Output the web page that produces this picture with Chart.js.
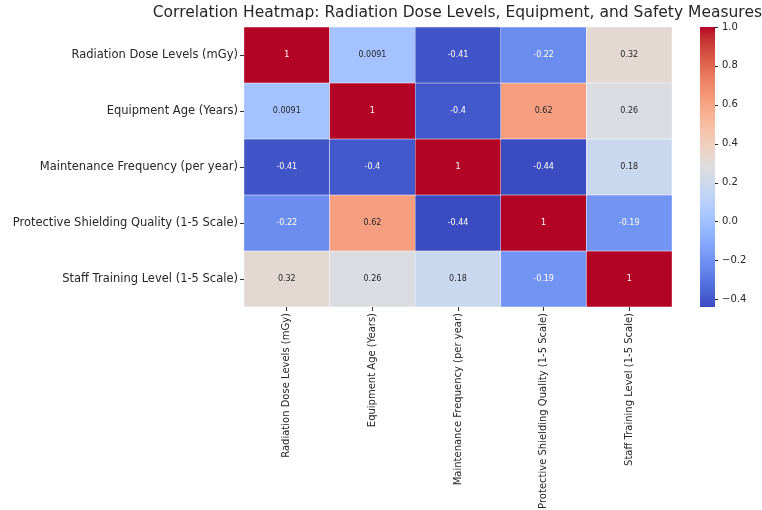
<!DOCTYPE html>
<html>
<head>
<meta charset="utf-8">
<script src="https://cdn.jsdelivr.net/npm/chart.js@4"></script>
<style>
  body { margin: 0; background: #fff; }
  canvas { display: block; }
</style>
</head>
<body>
<canvas id="heatmap" width="762" height="510"></canvas>
<script>
const variables = [
  'Radiation Dose Levels (mGy)',
  'Equipment Age (Years)',
  'Maintenance Frequency (per year)',
  'Protective Shielding Quality (1-5 Scale)',
  'Staff Training Level (1-5 Scale)'
];

// correlation matrix, one row per variable
const rowRadiation = [1, 0.0091, -0.41, -0.22, 0.32];
const rowEquipment = [0.0091, 1, -0.4, 0.62, 0.26];
const rowMaintenance = [-0.41, -0.4, 1, -0.44, 0.18];
const rowShielding = [-0.22, 0.62, -0.44, 1, -0.19];
const rowTraining = [0.32, 0.26, 0.18, -0.19, 1];
const matrix = [rowRadiation, rowEquipment, rowMaintenance, rowShielding, rowTraining];

const colorbarTicks = [-0.4, -0.2, 0.0, 0.2, 0.4, 0.6, 0.8, 1.0];
const vmin = Math.min(...matrix.flat());
const vmax = Math.max(...matrix.flat());

// coolwarm colormap (Moreland)
const coolwarm = [
  [59,76,192],[68,90,204],[77,104,215],[87,117,225],[98,130,234],[108,142,241],
  [119,154,247],[130,165,251],[141,176,254],[152,185,255],[163,194,255],[174,201,253],
  [184,208,249],[194,213,244],[204,217,238],[213,219,230],[221,221,221],[229,216,209],
  [236,211,197],[241,204,184],[245,196,172],[247,187,160],[247,177,148],[247,166,135],
  [244,154,123],[241,141,111],[236,127,99],[229,112,88],[222,96,77],[213,80,66],
  [203,62,56],[192,40,47],[180,4,38]
];

function cmap(v) {
  let t = (v - vmin) / (vmax - vmin);
  t = Math.max(0, Math.min(1, t)) * (coolwarm.length - 1);
  const i = Math.min(Math.floor(t), coolwarm.length - 2);
  const f = t - i;
  const a = coolwarm[i], b = coolwarm[i + 1];
  return [0, 1, 2].map(k => Math.round(a[k] + (b[k] - a[k]) * f));
}
const rgb = c => `rgb(${c[0]},${c[1]},${c[2]})`;

function textColor(c) {
  const lin = c.map(x => {
    x /= 255;
    return x <= 0.03928 ? x / 12.92 : Math.pow((x + 0.055) / 1.055, 2.4);
  });
  const lum = 0.2126 * lin[0] + 0.7152 * lin[1] + 0.0722 * lin[2];
  return lum > 0.408 ? '#262626' : '#ffffff';
}

const fmt = v => String(Number(v.toPrecision(2)));

// cell annotations
const annotate = {
  id: 'annotate',
  afterDatasetsDraw(chart) {
    const ctx = chart.ctx;
    ctx.save();
    ctx.font = '8px "DejaVu Sans"';
    ctx.textAlign = 'center';
    ctx.textBaseline = 'middle';
    matrix.forEach((row, i) => {
      chart.getDatasetMeta(i).data.forEach((bar, j) => {
        const p = bar.getCenterPoint();
        ctx.fillStyle = textColor(cmap(row[j]));
        ctx.fillText(fmt(row[j]), p.x, p.y);
      });
    });
    ctx.restore();
  }
};

// colour bar next to the heatmap
const colorbar = {
  id: 'colorbar',
  afterDraw(chart) {
    const s = chart.scales.cb;
    const ctx = chart.ctx;
    const x0 = s.left + 28, w = 15;
    ctx.save();
    for (let y = Math.floor(s.top); y < s.bottom; y++) {
      ctx.fillStyle = rgb(cmap(s.getValueForPixel(y + 0.5)));
      ctx.fillRect(x0, y, w, 1);
    }
    ctx.strokeStyle = '#262626';
    ctx.lineWidth = 1;
    colorbarTicks.forEach(v => {
      const y = Math.round(s.getPixelForValue(v)) + 0.5;
      ctx.beginPath();
      ctx.moveTo(x0 + w, y);
      ctx.lineTo(x0 + w + 3, y);
      ctx.stroke();
    });
    ctx.restore();
  }
};

const datasets = matrix.map((row, i) => ({
  label: variables[i],
  data: row.map(() => 1),
  backgroundColor: row.map(v => rgb(cmap(v))),
  borderColor: 'rgba(255,255,255,0.6)',
  borderWidth: 0.5,
  borderSkipped: false,
  barPercentage: 1,
  categoryPercentage: 1,
  stack: 'cells'
}));

new Chart(document.getElementById('heatmap'), {
  type: 'bar',
  data: { labels: variables, datasets },
  options: {
    responsive: false,
    animation: false,
    layout: { padding: 0 },
    plugins: {
      legend: { display: false },
      tooltip: { enabled: false },
      title: {
        display: true,
        text: 'Correlation Heatmap: Radiation Dose Levels, Equipment, and Safety Measures',
        align: 'end',
        color: '#262626',
        font: { family: 'DejaVu Sans', size: 15.5, weight: 'normal' },
        padding: { top: 4, bottom: 4.4 }
      }
    },
    scales: {
      x: {
        stacked: true,
        offset: true,
        border: { display: false },
        grid: { display: true, drawOnChartArea: false, offset: false, tickLength: 4, color: '#333' },
        ticks: {
          autoSkip: false, minRotation: 90, maxRotation: 90, padding: 2,
          color: '#262626', font: { family: 'DejaVu Sans', size: 10 }
        },
        afterFit(scale) { scale.height = 203; }
      },
      y: {
        type: 'linear',
        stacked: true,
        reverse: true,
        min: 0,
        max: variables.length,
        position: 'left',
        border: { display: false },
        grid: { display: true, drawOnChartArea: false, tickLength: 4, color: '#333' },
        afterBuildTicks(scale) {
          scale.ticks = variables.map((_, i) => ({ value: i + 0.5 }));
        },
        ticks: {
          autoSkip: false, padding: 2,
          color: '#262626', font: { family: 'DejaVu Sans', size: 11.5 },
          callback: v => variables[Math.floor(v)]
        },
        afterFit(scale) { scale.width = 244; }
      },
      cb: {
        type: 'linear',
        position: 'right',
        min: vmin,
        max: vmax,
        border: { display: false },
        grid: {
          display: true, drawOnChartArea: false, drawTicks: true,
          tickLength: 47, tickColor: 'rgba(0,0,0,0)'
        },
        afterBuildTicks(scale) {
          scale.ticks = colorbarTicks.map(v => ({ value: v }));
        },
        ticks: {
          padding: 3,
          color: '#262626', font: { family: 'DejaVu Sans', size: 10 },
          callback: v => v.toFixed(1).replace('-', '\u2212')
        },
        afterFit(scale) { scale.width = 90; }
      }
    }
  },
  plugins: [annotate, colorbar]
});
</script>
</body>
</html>
